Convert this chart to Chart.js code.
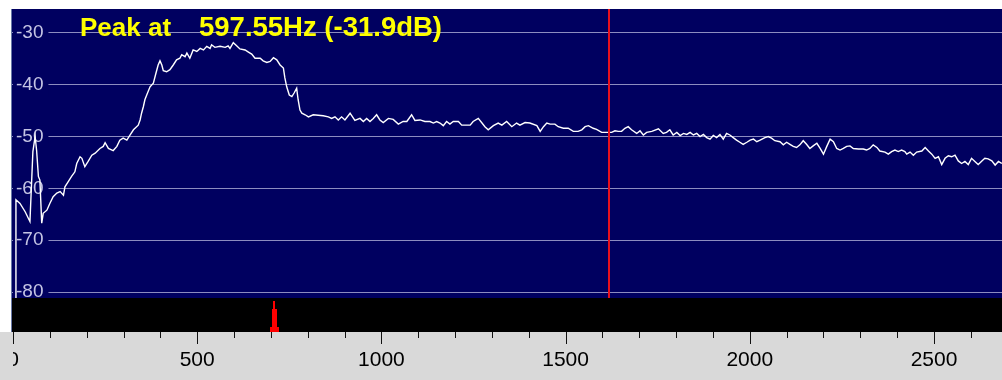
<!DOCTYPE html>
<html><head><meta charset="utf-8">
<script src="https://cdn.jsdelivr.net/npm/chart.js@4.4.1/dist/chart.umd.min.js"></script>
<style>html,body{margin:0;padding:0;background:#fff;overflow:hidden}#wrap{width:1002px;height:380px;position:relative}</style>
</head><body><div id="wrap"><canvas id="c"></canvas></div>
<script>
const freqHz = [7,8,19,33,46,54,60,64,69,73,78,82,92,100,109,119,128,137,141,150,159,168,173,182,187,195,204,214,223,236,245,250,259,272,282,290,299,309,318,327,340,345,349,354,358,363,372,381,388,394,399,404,408,417,426,435,444,453,458,467,472,480,489,499,508,517,526,535,539,548,562,576,584,589,598,607,616,630,639,648,657,671,679,689,698,707,716,725,734,738,743,750,757,763,770,774,779,784,793,802,815,842,856,865,874,883,892,901,915,928,942,951,960,969,978,987,996,1005,1019,1032,1046,1059,1069,1082,1091,1105,1118,1132,1141,1150,1159,1168,1177,1186,1195,1209,1218,1232,1241,1249,1263,1272,1281,1290,1304,1317,1327,1340,1354,1367,1376,1390,1403,1422,1431,1440,1449,1458,1471,1480,1494,1507,1521,1534,1544,1553,1562,1575,1584,1598,1612,1625,1634,1643,1652,1661,1670,1679,1693,1702,1711,1720,1734,1752,1765,1774,1783,1792,1802,1811,1820,1829,1838,1847,1856,1865,1874,1883,1892,1901,1910,1919,1928,1937,1946,1955,1964,1973,1982,1992,2001,2010,2019,2028,2041,2050,2059,2068,2082,2091,2100,2109,2118,2127,2136,2145,2154,2163,2172,2182,2191,2200,2209,2218,2227,2236,2245,2254,2263,2272,2281,2295,2308,2317,2326,2335,2345,2353,2367,2376,2385,2394,2403,2412,2421,2426,2435,2444,2453,2467,2476,2485,2494,2503,2512,2521,2530,2539,2548,2557,2566,2575,2584,2593,2602,2611,2620,2630,2638,2647,2657,2666,2675,2684];
const levelDb = [-95,-62.2,-62.9,-64.5,-66.4,-52.9,-50.0,-52.6,-57.7,-58.4,-66.7,-64.8,-64.2,-62.9,-61.6,-60.9,-60.6,-61.3,-59.7,-58.7,-57.7,-56.8,-55.2,-53.9,-54.2,-55.8,-54.8,-53.6,-53.2,-52.3,-51.9,-51.2,-52.3,-52.7,-51.9,-50.7,-50.3,-50.7,-49.7,-48.7,-47.8,-46.8,-45.5,-44.2,-42.9,-42.0,-40.4,-39.7,-37.8,-36.2,-35.4,-36.2,-37.3,-37.5,-37.1,-36.2,-35.2,-34.9,-34.2,-34.6,-33.9,-34.9,-33.3,-33.6,-33.0,-33.3,-32.6,-33.0,-32.3,-32.8,-32.6,-32.8,-32.5,-33.0,-31.9,-32.5,-33.1,-33.3,-33.7,-34.1,-34.9,-34.9,-35.4,-35.7,-35.5,-34.8,-35.2,-36.2,-36.8,-38.7,-40.4,-42.0,-42.3,-41.6,-40.7,-42.9,-44.9,-45.5,-45.8,-46.2,-45.8,-46.0,-46.2,-46.5,-46.2,-46.8,-46.2,-46.8,-45.5,-46.9,-46.5,-47.1,-46.5,-47.1,-46.5,-45.8,-46.8,-47.3,-46.5,-46.7,-47.6,-47.1,-47.1,-45.8,-46.9,-46.8,-47.1,-47.1,-47.4,-47.1,-47.4,-47.9,-47.1,-47.6,-47.1,-47.1,-47.8,-47.8,-47.8,-47.1,-46.5,-47.3,-48.1,-48.7,-47.9,-47.4,-47.8,-47.1,-48.1,-47.4,-47.8,-47.3,-47.4,-47.9,-49.0,-48.1,-47.4,-47.6,-47.6,-48.1,-48.4,-48.4,-49.0,-49.0,-48.7,-48.1,-47.9,-48.4,-48.6,-49.2,-49.2,-49.2,-48.9,-49.0,-49.0,-48.4,-48.1,-48.7,-49.4,-48.9,-49.7,-49.2,-49.0,-48.5,-49.4,-49.2,-48.7,-49.7,-49.2,-49.8,-49.4,-49.6,-49.2,-49.7,-49.4,-50.0,-49.6,-50.2,-50.5,-49.8,-50.2,-49.6,-50.5,-49.4,-49.7,-50.2,-50.7,-51.1,-51.5,-51.1,-50.7,-50.5,-51.0,-50.7,-50.2,-50.0,-50.3,-50.8,-51.0,-51.6,-51.1,-51.5,-51.9,-52.1,-51.6,-50.8,-51.5,-52.3,-51.8,-51.3,-52.3,-53.4,-51.9,-50.5,-51.0,-52.3,-52.6,-52.3,-51.9,-51.8,-52.3,-52.4,-52.4,-52.6,-52.3,-51.6,-52.1,-52.8,-53.0,-53.4,-52.9,-52.6,-52.9,-52.6,-52.9,-53.4,-53.0,-53.6,-53.0,-52.8,-52.1,-52.8,-53.4,-54.2,-53.9,-55.4,-54.2,-53.7,-53.9,-53.6,-54.7,-55.2,-54.8,-55.4,-54.2,-54.8,-55.4,-54.7,-54.2,-54.3,-54.7,-55.5,-54.8,-55.2];
const yTicks = [-80,-70,-60,-50,-40,-30];
const xMajorTicks = [0,500,1000,1500,2000,2500];
const xMinorTicks = [0,100,200,300,400,500,600,700,800,900,1000,1100,1200,1300,1400,1500,1600,1700,1800,1900,2000,2100,2200,2300,2400,2500,2600];
const peakPrefix = 'Peak at';
const peakValue = '597.55Hz (-31.9dB)';
const cursorHz = 1617;
const markerHz = 708;
const xRange = [-2.7, 2684.6];
const yRange = [-87.7, -25.4];

const NAVY = '#000060';
const GREY = '#d9d9d9';
const decor = {
  id: 'decor',
  beforeDraw(chart) {
    const {ctx, chartArea: a, width, height} = chart;
    ctx.save();
    ctx.fillStyle = '#ffffff'; ctx.fillRect(0, 0, width, height);
    ctx.fillStyle = GREY; ctx.fillRect(0, a.bottom, width, height - a.bottom);
    ctx.fillStyle = NAVY; ctx.fillRect(a.left, a.top, a.right - a.left, a.bottom - a.top);
    ctx.restore();
  },
  afterDatasetsDraw(chart) {
    const {ctx, chartArea: a, scales: {x}} = chart;
    const stripTop = a.bottom - 34;
    ctx.save();
    ctx.fillStyle = '#000000';
    ctx.fillRect(a.left, stripTop, a.right - a.left, a.bottom - stripTop);
    // left border
    ctx.strokeStyle = '#6878a8'; ctx.lineWidth = 1;
    ctx.beginPath(); ctx.moveTo(a.left - 0.5, a.top); ctx.lineTo(a.left - 0.5, a.bottom); ctx.stroke();
    // cursor line
    const cx = Math.round(x.getPixelForValue(cursorHz));
    ctx.strokeStyle = '#e8101c'; ctx.lineWidth = 2;
    ctx.beginPath(); ctx.moveTo(cx, a.top); ctx.lineTo(cx, stripTop); ctx.stroke();
    // marker
    const mx = Math.round(x.getPixelForValue(markerHz));
    ctx.fillStyle = '#ff0000';
    ctx.fillRect(mx - 1, stripTop + 3, 2, 9);
    ctx.fillRect(mx - 2, stripTop + 11, 5, 18);
    ctx.fillRect(mx - 4, stripTop + 29, 9, 5);
    // peak label
    ctx.fillStyle = '#ffff00';
    ctx.textBaseline = 'alphabetic'; ctx.textAlign = 'left';
    ctx.font = 'bold 26px "Liberation Sans", Arial, sans-serif';
    ctx.fillText(peakPrefix, 80, 36);
    ctx.font = 'bold 27.5px "Liberation Sans", Arial, sans-serif';
    ctx.fillText(peakValue, 199, 36);
    ctx.restore();
  },
  afterDraw(chart) {
    const {ctx, chartArea: a, scales: {x}, height} = chart;
    ctx.save();
    // clip the left edge of the bottom panel (label "0" is cut like in the original)
    ctx.fillStyle = GREY;
    ctx.fillRect(0, a.bottom, a.left + 1, height - a.bottom);
    ctx.strokeStyle = '#111111'; ctx.lineWidth = 1;
    for (const v of xMinorTicks) {
      const px = Math.round(x.getPixelForValue(v)) + 0.5;
      const len = (v % 500 === 0) ? 12 : 6;
      ctx.beginPath(); ctx.moveTo(px, a.bottom); ctx.lineTo(px, a.bottom + len); ctx.stroke();
    }
    ctx.restore();
  }
};

const points = freqHz.map((f, i) => ({x: f, y: levelDb[i]}));

new Chart(document.getElementById('c'), {
  type: 'line',
  data: { datasets: [{ data: points, borderColor: '#ffffff', borderWidth: 1.4, pointRadius: 0, tension: 0, fill: false }] },
  options: {
    responsive: true, maintainAspectRatio: false, animation: false, devicePixelRatio: 1,
    layout: { padding: { top: 9, left: 12, right: 0, bottom: 0 } },
    plugins: { legend: { display: false }, tooltip: { enabled: false }, title: { display: false } },
    scales: {
      x: {
        type: 'linear', min: xRange[0], max: xRange[1],
        afterBuildTicks: s => { s.ticks = xMajorTicks.map(v => ({value: v})); },
        afterFit: s => { s.height = 48; s.paddingLeft = 0; s.paddingRight = 0; },
        grid: { display: false, drawTicks: false },
        border: { display: false },
        ticks: { color: '#000000', font: { size: 21, family: '"Liberation Sans", Arial, sans-serif' }, padding: 16, maxRotation: 0, autoSkip: false,
          callback: v => String(v) }
      },
      y: {
        type: 'linear', min: yRange[0], max: yRange[1],
        afterBuildTicks: s => { s.ticks = yTicks.map(v => ({value: v})); },
        afterFit: s => { s.width = 0; s.paddingTop = 0; s.paddingBottom = 0; },
        grid: { color: '#8c8cc0', lineWidth: 1, drawTicks: false },
        border: { display: false },
        ticks: { mirror: true, padding: 4, color: '#c4c4e4', font: { size: 19, family: '"Liberation Sans", Arial, sans-serif' },
          showLabelBackdrop: true, backdropColor: NAVY, backdropPadding: { left: 3, right: 5, top: 0, bottom: 0 },
          callback: v => String(v) }
      }
    }
  },
  plugins: [decor]
});
</script>
</body></html>
